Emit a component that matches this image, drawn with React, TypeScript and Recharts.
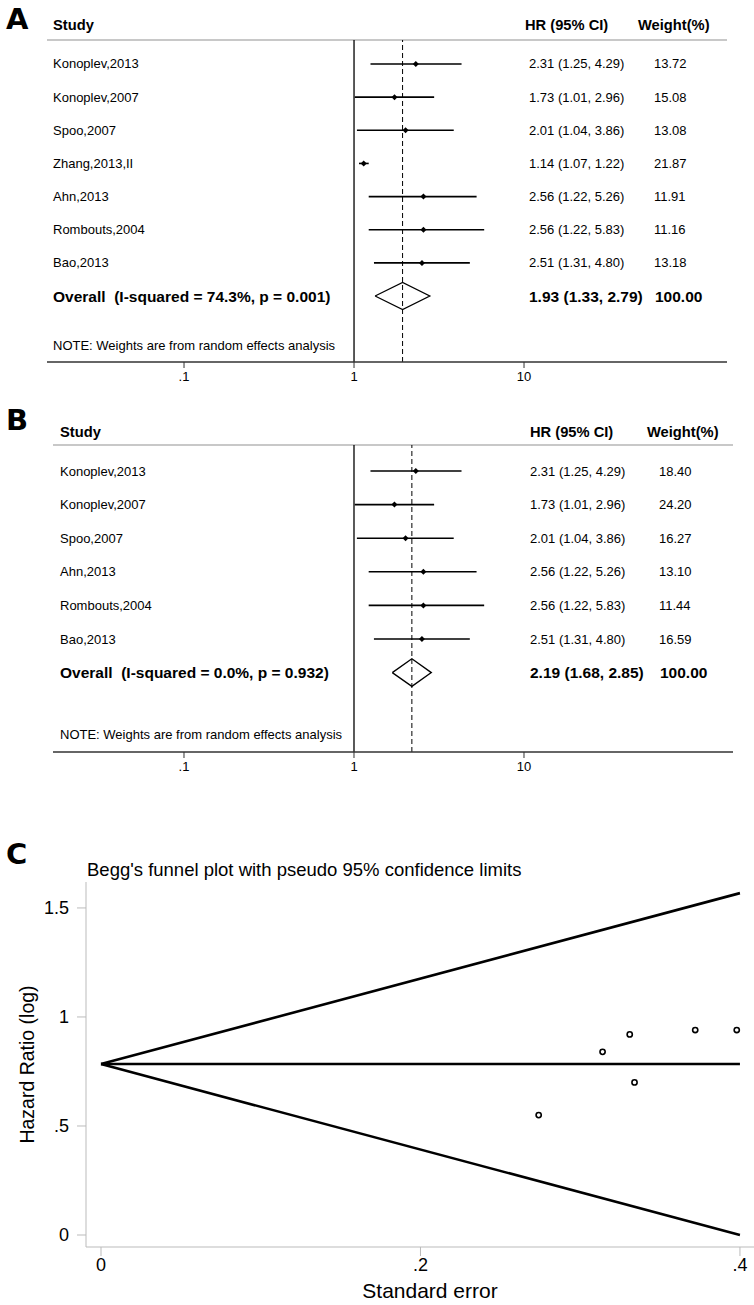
import React from "react";
import { ScatterChart, Scatter, XAxis, YAxis, ReferenceLine } from "recharts";

// panel A: all seven studies
const studiesA = [
  "Konoplev,2013",
  "Konoplev,2007",
  "Spoo,2007",
  "Zhang,2013,II",
  "Ahn,2013",
  "Rombouts,2004",
  "Bao,2013",
];
const hrA = [2.31, 1.73, 2.01, 1.14, 2.56, 2.56, 2.51];
const loA = [1.25, 1.01, 1.04, 1.07, 1.22, 1.22, 1.31];
const hiA = [4.29, 2.96, 3.86, 1.22, 5.26, 5.83, 4.8];
const weightA = [13.72, 15.08, 13.08, 21.87, 11.91, 11.16, 13.18];
const overallA = [1.93, 1.33, 2.79];
const overallLabelA = "Overall  (I-squared = 74.3%, p = 0.001)";

// panel B: without Zhang
const studiesB = [
  "Konoplev,2013",
  "Konoplev,2007",
  "Spoo,2007",
  "Ahn,2013",
  "Rombouts,2004",
  "Bao,2013",
];
const hrB = [2.31, 1.73, 2.01, 2.56, 2.56, 2.51];
const loB = [1.25, 1.01, 1.04, 1.22, 1.22, 1.31];
const hiB = [4.29, 2.96, 3.86, 5.26, 5.83, 4.8];
const weightB = [18.4, 24.2, 16.27, 13.1, 11.44, 16.59];
const overallB = [2.19, 1.68, 2.85];
const overallLabelB = "Overall  (I-squared = 0.0%, p = 0.932)";

const forestTicks = [0.1, 1, 10];
const noteText = "NOTE: Weights are from random effects analysis";

// panel C: Begg's funnel
const funnelSe = [0.274, 0.314, 0.331, 0.334, 0.372, 0.398];
const funnelLogHr = [0.55, 0.84, 0.92, 0.7, 0.94, 0.94];
const limitSe = [0, 0.4];
const pooledLine = [0.784, 0.784];
const upperLimit = [0.784, 1.568];
const lowerLimit = [0.784, 0.0];
const funnelXTicks = [0, 0.2, 0.4];
const funnelYTicks = [0, 0.5, 1, 1.5];

const FONT = "'Liberation Sans', Arial, Helvetica, sans-serif";

const fmt = (v: number) => v.toFixed(2);
const dropZero = (v: number) => (v > 0 && v < 1 ? String(v).replace(/^0/, "") : String(v));

const SmallDiamond = (p: any) => (
  <path
    d={`M${p.cx - 3},${p.cy} L${p.cx},${p.cy - 3} L${p.cx + 3},${p.cy} L${p.cx},${p.cy + 3} Z`}
    fill="#000"
  />
);

const Hollow = (p: any) => (
  <circle cx={p.cx} cy={p.cy} r={2.6} fill="#fff" stroke="#000" strokeWidth={1.6} />
);

const NoShape = () => <g />;

interface ForestProps {
  studies: string[];
  hr: number[];
  lo: number[];
  hi: number[];
  weights: number[];
  overall: number[];
  overallLabel: string;
  top: number;
  height: number;
  margin: { top: number; right: number; bottom: number; left: number };
  domainX: [number, number];
  domainY: [number, number];
  noteRow: number;
  cols: { study: number; hr: number; weight: number };
}

const Forest = (props: ForestProps) => {
  const { studies, hr, lo, hi, weights, overall, overallLabel, cols, noteRow } = props;
  const overallRow = studies.length;
  const points = studies.map((_, i) => ({ x: hr[i], y: i }));
  const diamond = [
    { x: overall[1], y: overallRow },
    { x: overall[0], y: overallRow - 0.41 },
    { x: overall[2], y: overallRow },
    { x: overall[0], y: overallRow + 0.41 },
    { x: overall[1], y: overallRow },
  ];
  // text rows positioned through the y scale
  const textRows = [
    ...studies.map((s, i) => ({
      x: 1,
      y: i,
      a: s,
      b: `${fmt(hr[i])} (${fmt(lo[i])}, ${fmt(hi[i])})`,
      c: fmt(weights[i]),
      kind: "study",
    })),
    {
      x: 1,
      y: overallRow,
      a: overallLabel,
      b: `${fmt(overall[0])} (${fmt(overall[1])}, ${fmt(overall[2])})`,
      c: "100.00",
      kind: "overall",
    },
    { x: 1, y: noteRow, a: noteText, b: "", c: "", kind: "note" },
  ];

  const RowText = (p: any) => {
    const d = p.payload;
    const bold = d.kind === "overall";
    const base = {
      fontFamily: FONT,
      dominantBaseline: "central" as const,
      fill: "#000",
      fontSize: bold ? 15.5 : 13,
      fontWeight: bold ? ("bold" as const) : ("normal" as const),
    };
    return (
      <g>
        <text x={cols.study} y={p.cy} style={{ whiteSpace: "pre" }} {...base}>
          {d.a}
        </text>
        {d.b && (
          <text x={cols.hr} y={p.cy} {...base}>
            {d.b}
          </text>
        )}
        {d.c && (
          <text x={bold ? cols.weight + 1 : cols.weight} y={p.cy} {...base}>
            {d.c}
          </text>
        )}
      </g>
    );
  };

  return (
    <div style={{ position: "absolute", left: 0, top: props.top }}>
      <ScatterChart width={754} height={props.height} margin={props.margin}>
        <XAxis
          type="number"
          dataKey="x"
          scale="log"
          domain={props.domainX}
          allowDataOverflow
          ticks={forestTicks}
          tickFormatter={dropZero}
          height={30}
          axisLine={{ stroke: "#333", strokeWidth: 1.6 }}
          tickLine={{ stroke: "#333" }}
          tickSize={6}
          tickMargin={4}
          tick={{ fontSize: 13, fill: "#000", fontFamily: FONT }}
          interval={0}
        />
        <YAxis type="number" dataKey="y" domain={props.domainY} reversed allowDataOverflow hide />
        <ReferenceLine y={props.domainY[0]} stroke="#c8c8c8" strokeWidth={2} />
        <ReferenceLine x={1} stroke="#000" strokeWidth={1.3} />
        <ReferenceLine x={overall[0]} stroke="#000" strokeWidth={1} strokeDasharray="5 3" />
        {studies.map((s, i) => (
          <ReferenceLine
            key={s}
            segment={[
              { x: lo[i], y: i },
              { x: hi[i], y: i },
            ]}
            stroke="#000"
            strokeWidth={1.6}
          />
        ))}
        <Scatter data={points} shape={SmallDiamond} isAnimationActive={false} />
        <Scatter
          data={diamond}
          line={{ stroke: "#000", strokeWidth: 1.3 }}
          lineType="joint"
          shape={NoShape}
          isAnimationActive={false}
        />
        <Scatter data={textRows} shape={RowText} isAnimationActive={false} />
      </ScatterChart>
    </div>
  );
};

const YLabel = (p: any) => {
  const vb = p.viewBox || { x: 0, y: 0, width: 0, height: 0 };
  const cx = 27;
  const cy = vb.y + vb.height / 2;
  return (
    <text
      x={cx}
      y={cy}
      transform={`rotate(-90, ${cx}, ${cy})`}
      textAnchor="middle"
      dominantBaseline="central"
      fontSize={19.5}
      fontFamily={FONT}
      fill="#000"
    >
      Hazard Ratio (log)
    </text>
  );
};

const XLabel = (p: any) => {
  const vb = p.viewBox || { x: 0, y: 0, width: 0, height: 0 };
  return (
    <text
      x={vb.x + vb.width / 2 + 10}
      y={vb.y + 43}
      textAnchor="middle"
      dominantBaseline="central"
      fontSize={21}
      fontFamily={FONT}
      fill="#000"
    >
      Standard error
    </text>
  );
};

const Funnel = () => {
  const pts = funnelSe.map((se, i) => ({ x: se, y: funnelLogHr[i] }));
  const pooled = limitSe.map((se, i) => ({ x: se, y: pooledLine[i] }));
  const upper = limitSe.map((se, i) => ({ x: se, y: upperLimit[i] }));
  const lower = limitSe.map((se, i) => ({ x: se, y: lowerLimit[i] }));
  const lineStyle = { stroke: "#000", strokeWidth: 2.6 };
  return (
    <div style={{ position: "absolute", left: 0, top: 840 }}>
      <ScatterChart width={754} height={465} margin={{ top: 42, right: 0, bottom: 0, left: 0 }}>
        <XAxis
          type="number"
          dataKey="x"
          domain={[-0.0094, 0.4088]}
          allowDataOverflow
          ticks={funnelXTicks}
          tickFormatter={dropZero}
          height={58}
          axisLine={{ stroke: "#bbb" }}
          tickLine={{ stroke: "#bbb" }}
          tickSize={9}
          tickMargin={2}
          tick={{ fontSize: 18, fill: "#000", fontFamily: FONT }}
          interval={0}
          label={<XLabel />}
        />
        <YAxis
          type="number"
          dataKey="y"
          domain={[-0.055, 1.619]}
          allowDataOverflow
          ticks={funnelYTicks}
          tickFormatter={dropZero}
          width={86}
          axisLine={{ stroke: "#bbb" }}
          tickLine={{ stroke: "#bbb" }}
          tickSize={9}
          tickMargin={8}
          tick={{ fontSize: 18, fill: "#000", fontFamily: FONT }}
          interval={0}
          label={<YLabel />}
        />
        <Scatter data={upper} line={lineStyle} shape={NoShape} isAnimationActive={false} />
        <Scatter data={lower} line={lineStyle} shape={NoShape} isAnimationActive={false} />
        <Scatter data={pooled} line={lineStyle} shape={NoShape} isAnimationActive={false} />
        <Scatter data={pts} shape={Hollow} isAnimationActive={false} />
      </ScatterChart>
    </div>
  );
};

const letterStyle = { fontFamily: "'DejaVu Sans', " + FONT, fontWeight: 900, fontSize: 29, fill: "#000" };
const headStyle = { fontFamily: FONT, fontWeight: "bold" as const, fontSize: 14.7, fill: "#000" };

export default function App() {
  return (
    <div
      style={{
        position: "absolute",
        left: 0,
        top: 0,
        width: 754,
        height: 1305,
        background: "#fff",
        overflow: "hidden",
      }}
    >
      <Forest
        studies={studiesA}
        hr={hrA}
        lo={loA}
        hi={hiA}
        weights={weightA}
        overall={overallA}
        overallLabel={overallLabelA}
        top={0}
        height={400}
        margin={{ top: 40, right: 27, bottom: 8, left: 47 }}
        domainX={[0.01563, 156.3]}
        domainY={[-0.724, 8.99]}
        noteRow={8.48}
        cols={{ study: 53, hr: 529, weight: 654 }}
      />
      <Forest
        studies={studiesB}
        hr={hrB}
        lo={loB}
        hi={hiB}
        weights={weightB}
        overall={overallB}
        overallLabel={overallLabelB}
        top={400}
        height={400}
        margin={{ top: 45, right: 21, bottom: 18, left: 53 }}
        domainX={[0.01696, 169.6]}
        domainY={[-0.774, 8.363]}
        noteRow={7.857}
        cols={{ study: 60, hr: 530, weight: 659 }}
      />
      <Funnel />
      <svg
        width={754}
        height={1305}
        style={{ position: "absolute", left: 0, top: 0, pointerEvents: "none" }}
      >
        <text x={6} y={29} {...letterStyle}>A</text>
        <text x={53} y={25} dominantBaseline="central" {...headStyle}>Study</text>
        <text x={525} y={25} dominantBaseline="central" {...headStyle}>HR (95% CI)</text>
        <text x={638} y={25} dominantBaseline="central" {...headStyle}>Weight(%)</text>

        <text x={6} y={430} {...letterStyle}>B</text>
        <text x={60} y={432} dominantBaseline="central" {...headStyle}>Study</text>
        <text x={530} y={432} dominantBaseline="central" {...headStyle}>HR (95% CI)</text>
        <text x={647} y={432} dominantBaseline="central" {...headStyle}>Weight(%)</text>

        <text x={6} y={864} {...letterStyle}>C</text>
        <text
          x={87}
          y={869}
          dominantBaseline="central"
          fontFamily={FONT}
          fontSize={18.5}
          fill="#000"
        >
          Begg's funnel plot with pseudo 95% confidence limits
        </text>
      </svg>
    </div>
  );
}
